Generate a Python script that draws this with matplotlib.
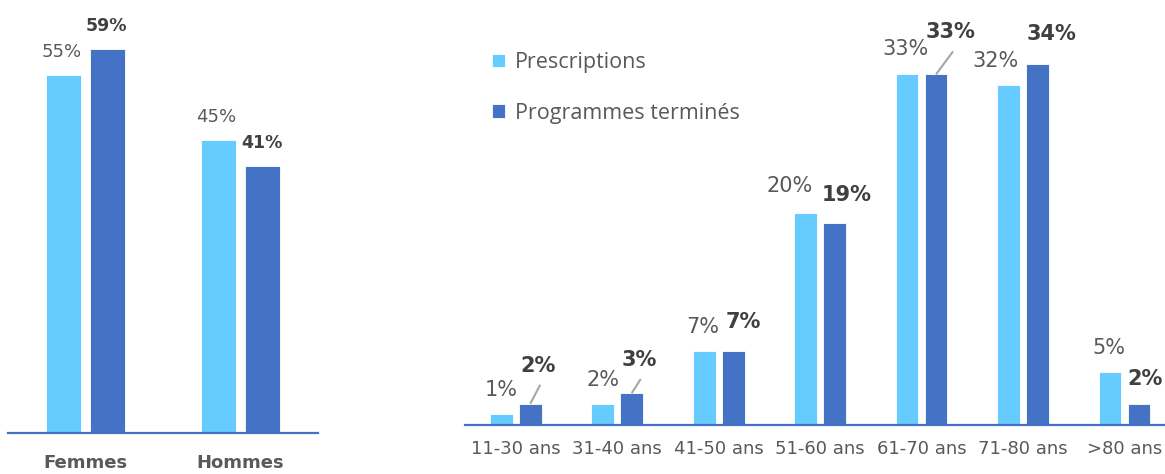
import matplotlib.pyplot as plt
import numpy as np

plt.rcParams["font.family"] = "DejaVu Sans"

# Répartition par sexe
sexes = ["Femmes", "Hommes"]
sexe_prescriptions = [55, 45]
sexe_termines = [59, 41]

# Répartition par tranche d'âge
ages = ["11-30 ans", "31-40 ans", "41-50 ans", "51-60 ans", "61-70 ans", "71-80 ans", ">80 ans"]
age_prescriptions = [1, 2, 7, 20, 33, 32, 5]
age_termines = [2, 3, 7, 19, 33, 34, 2]

CLAIR = "#66CCFF"
FONCE = "#4472C4"
GRIS = "#595959"
GRIS_FONCE = "#404040"

W, H = 1165, 474
fig = plt.figure(figsize=(W / 100, H / 100), dpi=100)

# décalages des étiquettes (pixels) par rapport au haut des barres
dec_clair = [(0, 18), (0, 18), (-1, 18), (-16, 20), (-2, 19), (-13, 18), (-1, 18)]
dec_fonce = [(8, 32), (8, 27), (10, 23), (12, 22), (14, 36), (14, 24), (6, 19)]
# traits de rappel (extrémité en pixels depuis le haut de la barre), None = pas de trait
traits = [(10, 19), (9, 14), None, None, (17, 23), None, None]

px = 72 / 100  # pixels -> points


def style_axe(ax):
    for s in ["top", "left", "right"]:
        ax.spines[s].set_visible(False)
    ax.spines["bottom"].set_color(FONCE)
    ax.spines["bottom"].set_linewidth(1.6)
    ax.set_yticks([])


# --- graphique de gauche : sexe ---
ax1 = fig.add_axes([8 / W, (H - 433) / H, 310 / W, 433 / H])
x1 = np.arange(len(sexes))
ax1.bar(x1 - 0.142, sexe_prescriptions, 0.22, color=CLAIR, edgecolor="white", linewidth=0.6)
ax1.bar(x1 + 0.142, sexe_termines, 0.22, color=FONCE, edgecolor="white", linewidth=0.6)
ax1.set_xlim(-0.5, 1.5)
ax1.set_ylim(0, 66.5)
style_axe(ax1)
ax1.set_xticks(x1)
ax1.set_xticklabels(sexes, fontsize=13, fontweight="bold", color=GRIS)
ax1.tick_params(axis="x", length=0, pad=15)
for i in range(len(sexes)):
    ax1.annotate(f"{sexe_prescriptions[i]}%", (x1[i] - 0.142, sexe_prescriptions[i]),
                 xytext=(-2 * px, 18 * px), textcoords="offset points",
                 ha="center", va="baseline", fontsize=13, color=GRIS)
    ax1.annotate(f"{sexe_termines[i]}%", (x1[i] + 0.142, sexe_termines[i]),
                 xytext=(-1 * px, 18 * px), textcoords="offset points",
                 ha="center", va="baseline", fontsize=12.5, fontweight="bold", color=GRIS_FONCE)

# --- graphique de droite : âge ---
ax2 = fig.add_axes([465 / W, (H - 425) / H, 700 / W, 425 / H])
x2 = np.arange(len(ages))
b1 = ax2.bar(x2 - 0.143, age_prescriptions, 0.225, color=CLAIR, edgecolor="white", linewidth=0.6,
             label="Prescriptions")
b2 = ax2.bar(x2 + 0.143, age_termines, 0.225, color=FONCE, edgecolor="white", linewidth=0.6,
             label="Programmes terminés")
ax2.set_xlim(-0.5, 6.4)
ax2.set_ylim(0, 40)
style_axe(ax2)
ax2.set_xticks(x2)
ax2.set_xticklabels(ages, fontsize=13, color=GRIS)
ax2.tick_params(axis="x", length=0, pad=11)

trans = ax2.transData
inv = trans.inverted()
for i in range(len(ages)):
    dx, dy = dec_clair[i]
    ax2.annotate(f"{age_prescriptions[i]}%", (x2[i] - 0.143, age_prescriptions[i]),
                 xytext=(dx * px, dy * px), textcoords="offset points",
                 ha="center", va="baseline", fontsize=15, color=GRIS)
    dx, dy = dec_fonce[i]
    ax2.annotate(f"{age_termines[i]}%", (x2[i] + 0.143, age_termines[i]),
                 xytext=(dx * px, dy * px), textcoords="offset points",
                 ha="center", va="baseline", fontsize=15, fontweight="bold", color=GRIS_FONCE)
    if traits[i] is not None:
        # trait de rappel entre la barre et son étiquette
        p0 = trans.transform((x2[i] + 0.143, age_termines[i]))
        p1 = p0 + np.array(traits[i])
        q0, q1 = inv.transform(p0), inv.transform(p1)
        ax2.plot([q0[0], q1[0]], [q0[1], q1[1]], color="#A6A6A6", linewidth=1.5,
                 solid_capstyle="butt", clip_on=False)

leg = ax2.legend(handles=[b1, b2], loc="upper left", bbox_to_anchor=(27 / 700, 1 - 52 / 425),
                 frameon=False, handlelength=0.6, handleheight=0.6,
                 handletextpad=0.45, labelspacing=1.38, borderaxespad=0, borderpad=0,
                 prop={"family": "Open Sans", "size": 15.5})
for t in leg.get_texts():
    t.set_color(GRIS)

fig.savefig("out.png", dpi=100)
